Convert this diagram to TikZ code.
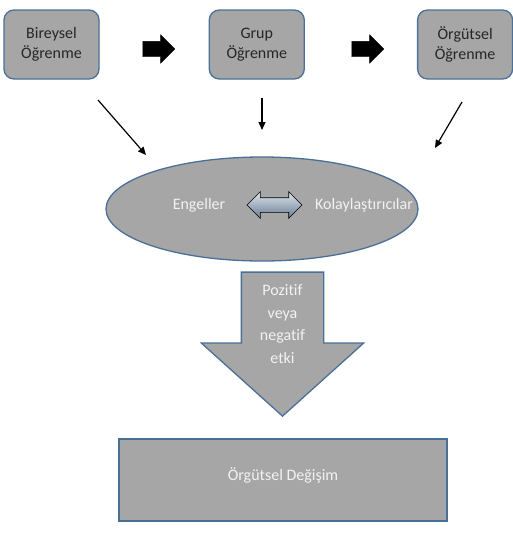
\documentclass[tikz,border=0pt]{standalone}
\usepackage{fontspec}
\setmainfont[Ligatures=NoCommon]{Carlito}
\usetikzlibrary{arrows.meta, positioning, shapes.geometric, shapes.arrows}
\definecolor{boxgray}{RGB}{166,166,166}
\definecolor{boxedge}{RGB}{74,112,152}
\definecolor{softwhite}{RGB}{242,242,242}

\begin{document}
\begin{tikzpicture}[
  x=1pt, y=-1pt,
  block/.style={draw=boxedge, fill=boxgray, line width=1.3pt, rounded corners=10pt, minimum width=95pt, minimum height=69pt, align=center, font=\fontsize{16}{20}\selectfont, text=black!85},
  flow/.style={single arrow, fill=black, draw=black, minimum height=32pt, inner xsep=0pt, inner ysep=7.5pt, single arrow head extend=6.5pt},
  label/.style={text=softwhite, font=\fontsize{16}{20}\selectfont},
  line/.style={-{Triangle[length=8pt, width=7pt]}, line width=1.2pt},
  node distance=109pt
]
\useasboundingbox (0,0) rectangle (513,536);

% three levels of learning
\node[block] (bir) at (51.5,44.5) {Bireysel\\Öğrenme};
\node[block, right=of bir] (grp) {Grup\\Öğrenme};
\node[block, right=112pt of grp] (org) {Örgütsel\\Öğrenme};

\node[flow] (f1) at (155,49) {};
\node[flow] (f2) at (364,49) {};

% barriers and facilitators
\node[ellipse, draw=boxedge, fill=boxgray, line width=1.3pt, minimum width=312pt, minimum height=104pt, inner sep=0pt] (eng) at (262,209) {};
\node[label] (engl) at (199,205) {Engeller};
\node[label] (kol) at (364,205) {Kolaylaştırıcılar};
\node[double arrow, draw=black, line width=0.6pt, top color={rgb,255:red,222;green,230;blue,238}, bottom color={rgb,255:red,104;green,124;blue,146}, minimum height=55pt, inner xsep=0pt, inner ysep=7pt, double arrow head extend=6pt] (ek) at (274.5,205) {};

\coordinate (a1) at (98,100);
\coordinate (b1) at (146,155);
\coordinate (a2) at (262,98);
\coordinate (b2) at (262,130);
\coordinate (a3) at (462,102);
\coordinate (b3) at (435,148);
\draw[line] (a1) -- (b1);
\draw[line] (a2) -- (b2);
\draw[line] (a3) -- (b3);

% effect on change
\node[single arrow, shape border rotate=270, draw=boxedge, fill=boxgray, line width=1.3pt, minimum height=144pt, inner xsep=40.5pt, inner ysep=0pt, single arrow head extend=40pt, single arrow tip angle=96, anchor=tip] (etki) at (282.5,417) {};
\node[label, align=center, font=\fontsize{16}{22.5}\selectfont] (etkit) at (282.5,324) {Pozitif\\veya\\negatif\\etki};

\node[draw=boxedge, fill=boxgray, line width=1.3pt, minimum width=328pt, minimum height=82pt, text height=14pt, text depth=14pt, label] (deg) at (283,480) {Örgütsel Değişim};
\end{tikzpicture}
\end{document}
